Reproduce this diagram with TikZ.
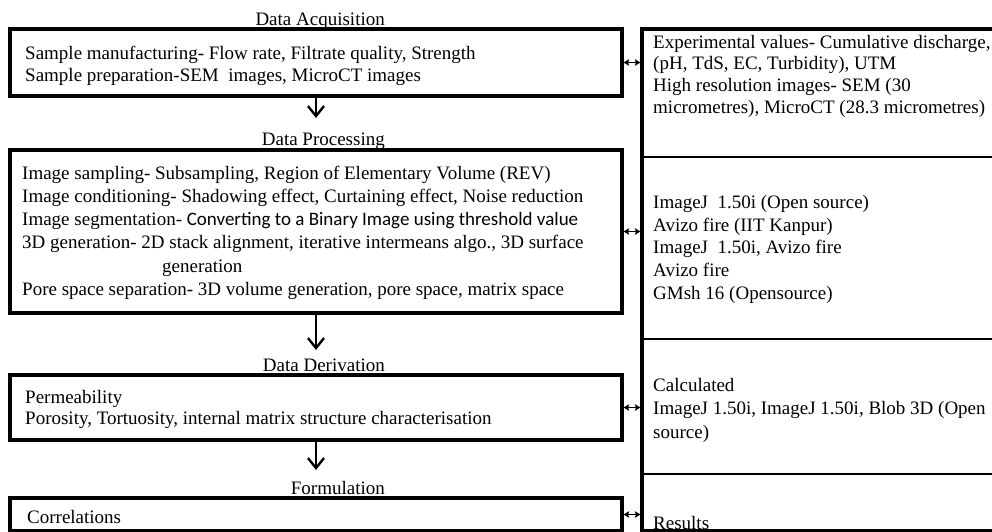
\documentclass[tikz,border=0pt]{standalone}
\usepackage{fontspec}
\setmainfont{Liberation Serif}
\newfontfamily\carlitofont{Carlito}
\usetikzlibrary{arrows.meta}
\newcommand{\fl}{\rule{0pt}{15pt}}
\begin{document}
\begin{tikzpicture}[x=1pt,y=-1pt,
  box/.style={draw, line width=3.2pt, inner sep=0pt, minimum width=612pt},
  rbox/.style={draw, line width=3.2pt, inner sep=0pt},
  divider/.style={line width=1.4pt},
  txt/.style={inner sep=0pt, align=left, anchor=north west},
  title/.style={inner sep=0pt, anchor=base east, font=\fontsize{19}{22}\selectfont},
  varrow/.style={line width=2.4pt, -{Straight Barb[length=10pt,width=16pt,line width=2.4pt]}},
  darrow/.style={line width=1.6pt, {Stealth[length=5.5pt,width=6.5pt,inset=1pt]}-{Stealth[length=5.5pt,width=6.5pt,inset=1pt]}}
]
\useasboundingbox[fill=white] (0,0) rectangle (992,532);
\clip (0,0) rectangle (992,532);

% left boxes
\node[box, minimum height=67pt]  (b1) at (316,62.5) {};
\node[box, minimum height=163pt] (b2) at (316,231.5) {};
\node[box, minimum height=65pt]  (b3) at (316,407.5) {};
\node[box, minimum height=33pt]  (b4) at (316,514.5) {};

% right column box
\node[rbox, minimum width=360pt, minimum height=502pt] (rb) at (822,280) {};
\draw[divider] (rb.west |- 0,157) -- (rb.east |- 0,157);
\draw[divider] (rb.west |- 0,339) -- (rb.east |- 0,339);
\draw[divider] (rb.west |- 0,474) -- (rb.east |- 0,474);

% titles
\node[title] (h1) at (385,26)  {Data Acquisition};
\node[title] (h2) at (385,145) {Data Processing};
\node[title] (h3) at (385,371) {Data Derivation};
\node[title] (h4) at (385,494) {Formulation};

% left texts
\node[txt, font=\fontsize{19}{22}\selectfont] (t1) at (25,44)
  {\fl Sample manufacturing- Flow rate, Filtrate quality, Strength\\
   Sample preparation-SEM\ \ images, MicroCT images};
\node[txt, font=\fontsize{19}{23.2}\selectfont] (t2) at (22,164)
  {\fl Image sampling- Subsampling, Region of Elementary Volume (REV)\\
   Image conditioning- Shadowing effect, Curtaining effect, Noise reduction\\
   Image segmentation- {\carlitofont Converting to a Binary Image using threshold value}\\
   3D generation- 2D stack alignment, iterative intermeans algo., 3D surface\\
   \hspace*{140pt}generation\\
   Pore space separation- 3D volume generation, pore space, matrix space};
\node[txt, font=\fontsize{19}{21}\selectfont] (t3) at (25,388)
  {\fl Permeability\\
   Porosity, Tortuosity, internal matrix structure characterisation};
\node[txt, font=\fontsize{19}{22}\selectfont] (t4) at (27,508)
  {\fl Correlations};

% right texts
\node[txt, font=\fontsize{19}{21.7}\selectfont] (r1) at (653,33)
  {\fl Experimental values- Cumulative discharge,\\
   (pH, TdS, EC, Turbidity), UTM\\
   High resolution images- SEM (30\\
   micrometres), MicroCT (28.3 micrometres)};
\node[txt, font=\fontsize{19}{22.8}\selectfont] (r2) at (653,193)
  {\fl ImageJ\ \ 1.50i (Open source)\\
   Avizo fire (IIT\ Kanpur)\\
   ImageJ\ \ 1.50i, Avizo fire\\
   Avizo fire\\
   GMsh 16 (Opensource)};
\node[txt, font=\fontsize{19}{23.5}\selectfont] (r3) at (653,376)
  {\fl Calculated\\
   ImageJ 1.50i, ImageJ 1.50i, Blob 3D (Open\\
   source)};
\node[txt, font=\fontsize{19}{22}\selectfont] (r4) at (653,514)
  {\fl Results};

% flow arrows
\coordinate (e1) at (316,118);
\coordinate (e2) at (316,350);
\coordinate (e3) at (316,470);
\draw[varrow] (b1.south) -- (e1);
\draw[varrow] (b2.south) -- (e2);
\draw[varrow] (b3.south) -- (e3);

% double arrows to right column
\draw[darrow] (b1.east) -- (b1.east -| rb.west);
\draw[darrow] (b2.east) -- (b2.east -| rb.west);
\draw[darrow] (b3.east) -- (b3.east -| rb.west);
\draw[darrow] (b4.east) -- (b4.east -| rb.west);
\end{tikzpicture}
\end{document}
